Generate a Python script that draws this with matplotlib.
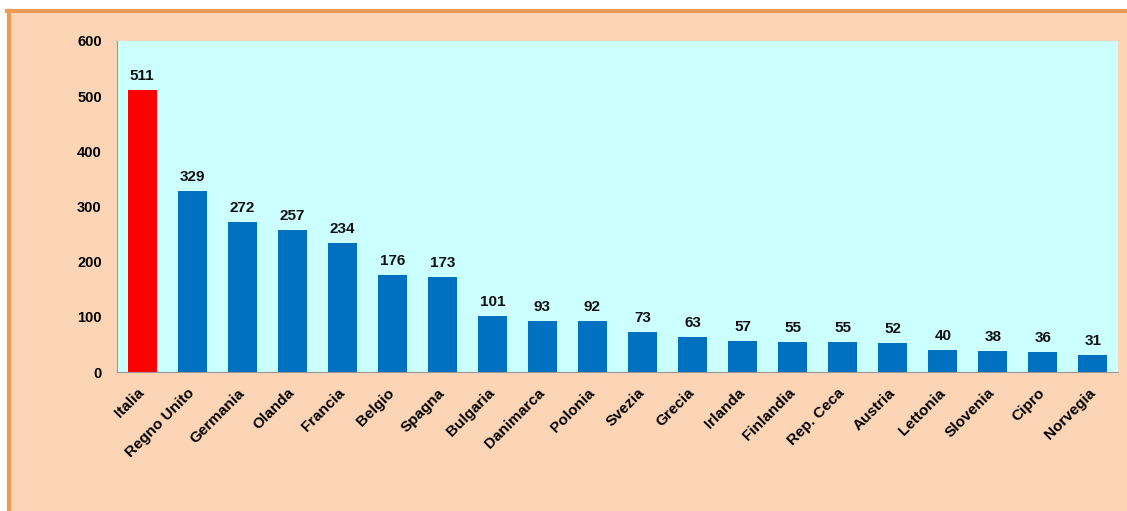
import matplotlib
matplotlib.use("Agg")
import matplotlib.pyplot as plt
import matplotlib.transforms as mtransforms
from matplotlib.patches import Rectangle
from matplotlib.lines import Line2D

paesi = ["Italia", "Regno Unito", "Germania", "Olanda", "Francia", "Belgio",
         "Spagna", "Bulgaria", "Danimarca", "Polonia", "Svezia", "Grecia",
         "Irlanda", "Finlandia", "Rep. Ceca", "Austria", "Lettonia",
         "Slovenia", "Cipro", "Norvegia"]
valori = [511, 329, 272, 257, 234, 176, 173, 101, 93, 92, 73, 63, 57, 55,
          55, 52, 40, 38, 36, 31]
y_ticks = [0, 100, 200, 300, 400, 500, 600]

plt.rcParams['font.family'] = ['Liberation Sans', 'DejaVu Sans']

W, H = 1127, 511
fig = plt.figure(figsize=(W / 100, H / 100), dpi=100, facecolor="white")

# peach background with orange border on top and left
fig.patches.append(Rectangle((7 / W, 0), 1 - 7 / W, 1 - 10 / H,
                             transform=fig.transFigure, facecolor="#FBD5B5",
                             edgecolor="none", zorder=-2))
fig.lines.append(Line2D([7 / W, 1], [1 - 11.5 / H, 1 - 11.5 / H],
                        transform=fig.transFigure, color="#E99A55", lw=3,
                        zorder=-1))
fig.lines.append(Line2D([8.5 / W, 8.5 / W], [0, 1 - 11.5 / H],
                        transform=fig.transFigure, color="#E99A55", lw=3,
                        zorder=-1))

ax = fig.add_axes([117 / W, (H - 372) / H, 1001 / W, 331 / H])
ax.set_zorder(1)
ax.set_facecolor("#CCFFFF")

colori = ["#FF0000"] + ["#0070C0"] * (len(valori) - 1)
x = list(range(len(paesi)))
bars = ax.bar(x, valori, width=0.58, color=colori, zorder=2)

for b, v in zip(bars, valori):
    ax.annotate(str(v), (b.get_x() + b.get_width() / 2, v),
                xytext=(0, 5), textcoords="offset points", ha="center",
                va="bottom", fontsize=11, fontweight="bold", color="#111111")

ax.set_xlim(-0.5, len(paesi) - 0.5)
ax.set_ylim(0, 600)
ax.set_yticks(y_ticks)
ax.set_yticklabels([str(t) for t in y_ticks], fontsize=10.5, fontweight="bold")
ax.set_xticks(x)
ax.set_xticklabels(paesi, rotation=45, ha="right", rotation_mode="anchor",
                   fontsize=11, fontweight="bold")
ax.tick_params(axis="y", length=0, pad=11)
ax.tick_params(axis="x", length=0, pad=10)

# nudge the slanted labels a little to the left
shift = mtransforms.ScaledTranslation(-5 / 100, 0, fig.dpi_scale_trans)
for lab in ax.get_xticklabels():
    lab.set_transform(lab.get_transform() + shift)

for s in ["top", "right"]:
    ax.spines[s].set_visible(False)
ax.spines["left"].set_color("#999999")
ax.spines["bottom"].set_color("#999999")

fig.savefig("out.png", dpi=100, facecolor=fig.get_facecolor())
